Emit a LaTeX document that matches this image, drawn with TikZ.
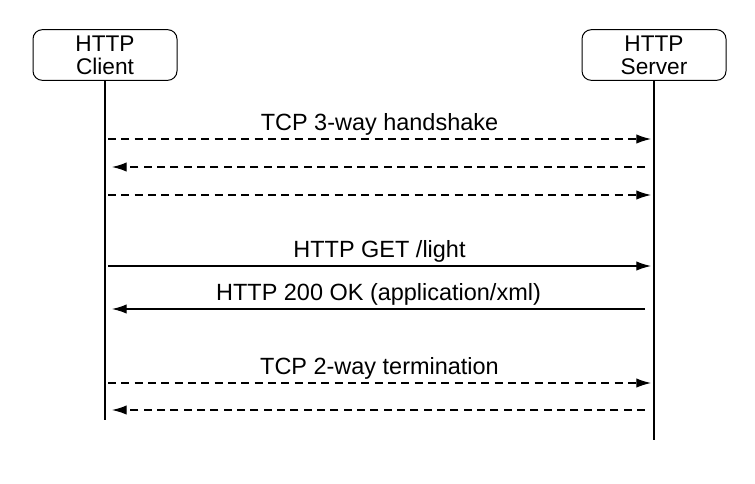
\documentclass[tikz,border=0pt]{standalone}
\usepackage{fontspec}
\setmainfont{Liberation Sans}
\usetikzlibrary{arrows.meta}

\tikzset{every picture/.style={line width=0.75pt}}
\tikzset{
  actor/.style={draw, rounded corners=7pt, minimum width=108pt, minimum height=38pt,
    inner sep=0pt, align=center, font=\fontsize{17}{17.5}\selectfont},
  life/.style={line width=1pt},
  msg/.style={line width=0.9pt, -{Latex[length=11pt,width=7pt]}},
  dashmsg/.style={msg, dash pattern={on 6pt off 4pt}},
  msgtext/.style={font=\fontsize{17.6}{19}\selectfont, inner sep=0pt, above=2.5pt}
}

\begin{document}
\begin{tikzpicture}[x=0.75pt,y=0.75pt,yscale=-1,xscale=1]
\useasboundingbox (0,0) rectangle (755,483);

%Actors
\node [actor] (client) at (105,55) {HTTP\\Client};
\node [actor] (server) at (654,55) {HTTP\\Server};

%Lifelines
\coordinate (client end) at (105,420);
\coordinate (server end) at (654,440);
\draw [life] (client) -- (client end);
\draw [life] (server) -- (server end);

%Message ends
\foreach \n/\y/\xa/\xb in {a/139/108/651, b/167/112/645, c/195/108/651,
  d/266/108/651, e/309/112/645, f/383/108/651, g/410/112/645} {
  \coordinate (c\n) at (\xa,\y);
  \coordinate (s\n) at (\xb,\y);
}

%TCP handshake
\draw [dashmsg] (ca) -- node [msgtext] (hs) {TCP 3-way handshake} (sa);
\draw [dashmsg] (sb) -- (cb);
\draw [dashmsg] (cc) -- (sc);

%HTTP request and response
\draw [msg] (cd) -- node [msgtext] (get) {HTTP GET /light} (sd);
\draw [msg] (se) -- node [msgtext] (ok) {HTTP 200 OK (application/xml)} (ce);

%TCP termination
\draw [dashmsg] (cf) -- node [msgtext] (term) {TCP 2-way termination} (sf);
\draw [dashmsg] (sg) -- (cg);

\end{tikzpicture}
\end{document}
